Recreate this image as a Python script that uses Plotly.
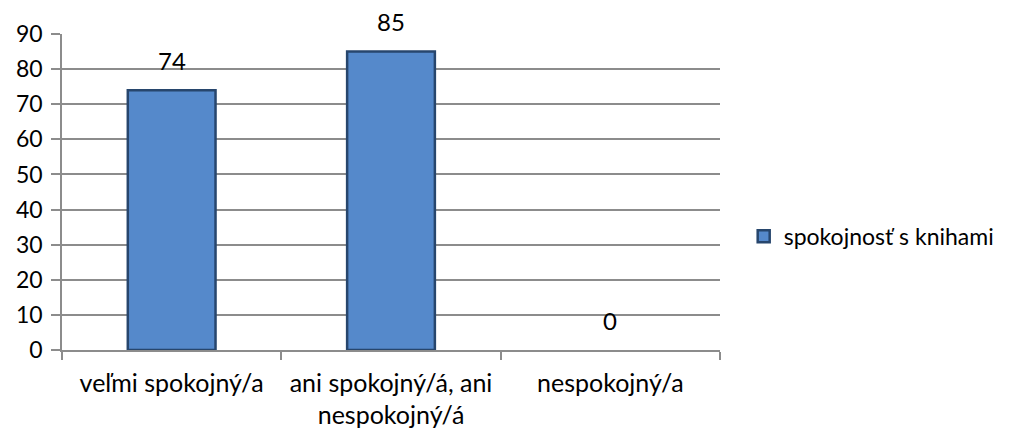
import plotly.graph_objects as go

categories = ["veľmi spokojný/a", "ani spokojný/á, ani<br>nespokojný/á", "nespokojný/a"]
values = [74, 85, 0]
series_name = "spokojnosť s knihami"
y_ticks = [0, 10, 20, 30, 40, 50, 60, 70, 80, 90]

FONT = "Lato"
GRID = "#8c8c8c"

fig = go.Figure()
fig.add_trace(
    go.Bar(
        x=categories,
        y=values,
        name=series_name,
        width=0.4,
        marker=dict(
            color="#5589cb",
            line=dict(color="#27466d", width=[2.5 if v > 0 else 0 for v in values]),
        ),
    )
)

# data labels sit well above the bar tops, like the Excel original
for cat, val in zip(categories, values):
    fig.add_annotation(
        x=cat, y=val, text=str(val), showarrow=False, yshift=30,
        font=dict(family=FONT, size=24, color="#000000"),
    )

fig.update_layout(
    width=1014,
    height=436,
    margin=dict(l=54, r=302, t=26, b=94, autoexpand=False),
    paper_bgcolor="white",
    plot_bgcolor="white",
    font=dict(family=FONT, size=24, color="#000000"),
    showlegend=True,
    legend=dict(
        x=1.036, y=0.36, xanchor="left", yanchor="middle",
        font=dict(family=FONT, size=23), itemwidth=30,
    ),
)
fig.update_xaxes(
    showline=True, linecolor=GRID, linewidth=1.5,
    ticks="outside", tickson="boundaries", ticklen=8, tickcolor=GRID, tickwidth=1.5,
    ticklabelstandoff=10, showgrid=False, tickfont=dict(size=25),
)
fig.update_yaxes(
    range=[0, 90], tickvals=y_ticks,
    showline=True, linecolor=GRID, linewidth=1.5,
    showgrid=True, gridcolor=GRID, gridwidth=1.5,
    ticks="outside", ticklen=9, tickcolor=GRID, tickwidth=1.5,
    ticklabelstandoff=4, zeroline=False, tickfont=dict(size=23),
)

fig.write_html("out.html")
